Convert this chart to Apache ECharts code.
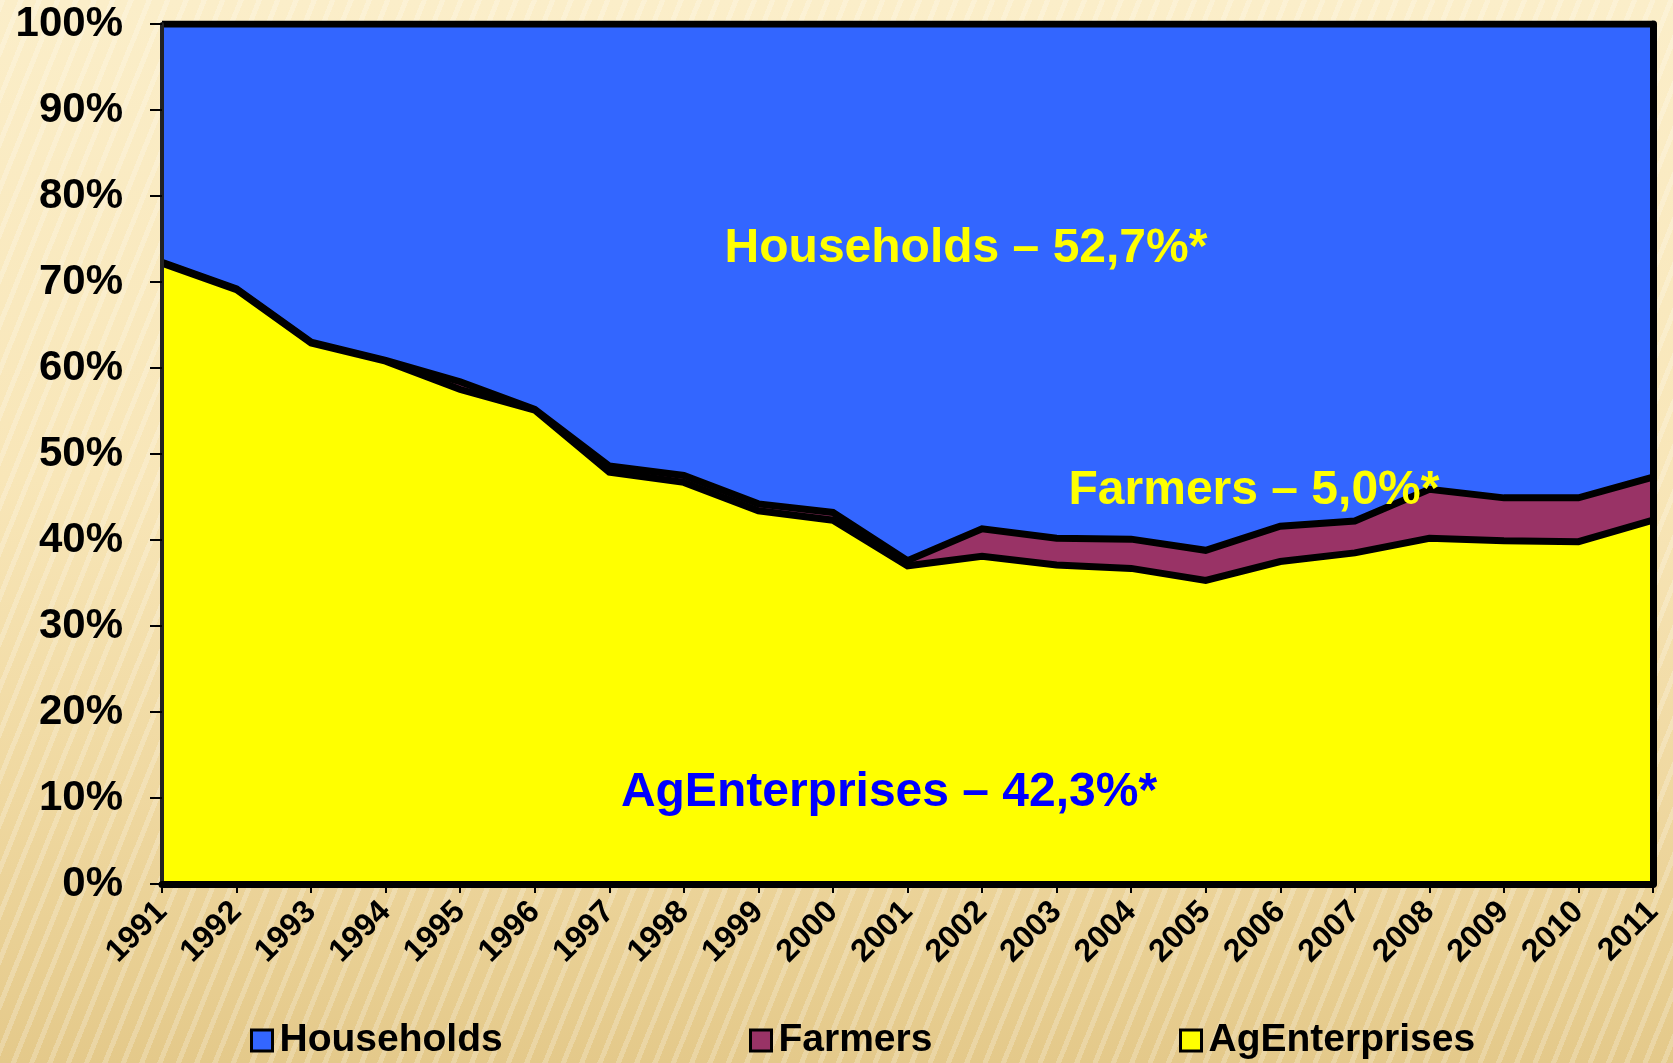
<!DOCTYPE html>
<html>
<head>
<meta charset="utf-8">
<title>AgEnterprises / Farmers / Households</title>
<script src="https://cdn.jsdelivr.net/npm/echarts@6/dist/echarts.min.js"></script>
<style>
html, body {
	margin: 0;
	padding: 0;
}
body {
	width: 1673px;
	height: 1063px;
	overflow: hidden;
	background:
		repeating-linear-gradient(112deg, rgba(255,255,255,0.22) 0px, rgba(255,255,255,0.22) 5px, rgba(255,255,255,0) 5px, rgba(255,255,255,0) 17px),
		linear-gradient(180deg, #fbeec9 0%, #f8e6b8 45%, #efd8a0 75%, #e4c98a 100%);
}
#chart {
	width: 1673px;
	height: 1063px;
}
</style>
</head>
<body>
<div id="chart"></div>
<script>
// years on the x axis
const years = ['1991', '1992', '1993', '1994', '1995', '1996', '1997', '1998', '1999', '2000',
	'2001', '2002', '2003', '2004', '2005', '2006', '2007', '2008', '2009', '2010', '2011'];

// shares in % (stack order: ag, farmers, households)
const agEnterprises = [72.2, 69.1, 62.9, 60.8, 57.5, 55.1, 47.9, 46.7, 43.4, 42.3,
	37.0, 38.1, 37.1, 36.7, 35.3, 37.5, 38.5, 40.2, 39.9, 39.8, 42.3];
const farmers = [0.1, 0.1, 0.1, 0.1, 0.9, 0.1, 0.7, 0.8, 0.8, 0.9,
	0.6, 3.2, 3.1, 3.4, 3.5, 4.1, 3.7, 5.7, 5.0, 5.1, 5.0];
const households = [27.7, 30.8, 37.0, 39.1, 41.6, 44.8, 51.4, 52.5, 55.8, 56.8,
	62.4, 58.7, 59.8, 59.9, 61.2, 58.4, 57.8, 54.1, 55.1, 55.1, 52.7];

const yTicks = [0, 10, 20, 30, 40, 50, 60, 70, 80, 90, 100];

const font = 'Liberation Sans';

let myChart = echarts.init(document.getElementById('chart'), null, {renderer: 'canvas'});

function areaSeries(name, data, fill, z) {
	return {
		name: name,
		type: 'line',
		stack: 'total',
		data: data,
		z: z,
		symbol: 'none',
		silent: true,
		itemStyle: {color: fill},
		lineStyle: {color: '#000', width: 7, join: 'miter'},
		areaStyle: {color: fill, opacity: 1},
		emphasis: {disabled: true}
	};
}

function legendItem(name, left) {
	return {
		data: [name],
		left: left,
		top: 1016,
		icon: 'rect',
		itemWidth: 21,
		itemHeight: 21,
		itemGap: 0,
		selectedMode: false,
		itemStyle: {borderColor: '#000', borderWidth: 3},
		textStyle: {fontFamily: font, fontWeight: 'bold', fontSize: 39, color: '#000', padding: [0, 0, 0, 2]}
	};
}

myChart.setOption({
	animation: false,
	backgroundColor: 'transparent',
	grid: {
		left: 162,
		right: 20,
		top: 24,
		bottom: 179
	},
	legend: [
		legendItem('Households', 245),
		legendItem('Farmers', 744),
		legendItem('AgEnterprises', 1174)
	],
	xAxis: {
		type: 'category',
		data: years,
		boundaryGap: false,
		z: 10,
		axisLine: {lineStyle: {color: '#000', width: 7}},
		axisTick: {show: true, length: 9, lineStyle: {color: '#000', width: 2}},
		axisLabel: {
			interval: 0,
			rotate: 45,
			margin: 23,
			fontFamily: font,
			fontWeight: 'bold',
			fontSize: 32,
			color: '#000'
		},
		splitLine: {show: false}
	},
	yAxis: [{
		type: 'value',
		min: yTicks[0],
		max: yTicks[yTicks.length - 1],
		interval: 10,
		z: 10,
		axisLine: {show: true, lineStyle: {color: '#222', width: 4}},
		axisTick: {show: true, length: 12, lineStyle: {color: '#000', width: 2}},
		axisLabel: {
			margin: 39,
			fontFamily: font,
			fontWeight: 'bold',
			fontSize: 42,
			color: '#000',
			formatter: '{value}%'
		},
		splitLine: {show: false}
	}, {
		type: 'value',
		position: 'right',
		min: 0,
		max: 100,
		z: 10,
		axisLine: {show: true, lineStyle: {color: '#000', width: 7}},
		axisTick: {show: false},
		axisLabel: {show: false},
		splitLine: {show: false}
	}],
	series: [
		areaSeries('AgEnterprises', agEnterprises, '#ffff00', 4),
		areaSeries('Farmers', farmers, '#993366', 3),
		areaSeries('Households', households, '#3366ff', 2)
	],
	graphic: [
		{
			type: 'text', x: 966, y: 249, z: 20,
			style: {text: 'Households – 52,7%*', fill: '#ffff00', font: 'bold 48px ' + font, align: 'center', verticalAlign: 'middle'}
		},
		{
			type: 'text', x: 1254, y: 491, z: 20,
			style: {text: 'Farmers – 5,0%*', fill: '#ffff00', font: 'bold 48px ' + font, align: 'center', verticalAlign: 'middle'}
		},
		{
			type: 'text', x: 889, y: 793, z: 20,
			style: {text: 'AgEnterprises – 42,3%*', fill: '#0000ff', font: 'bold 48px ' + font, align: 'center', verticalAlign: 'middle'}
		}
	]
});
</script>
</body>
</html>
